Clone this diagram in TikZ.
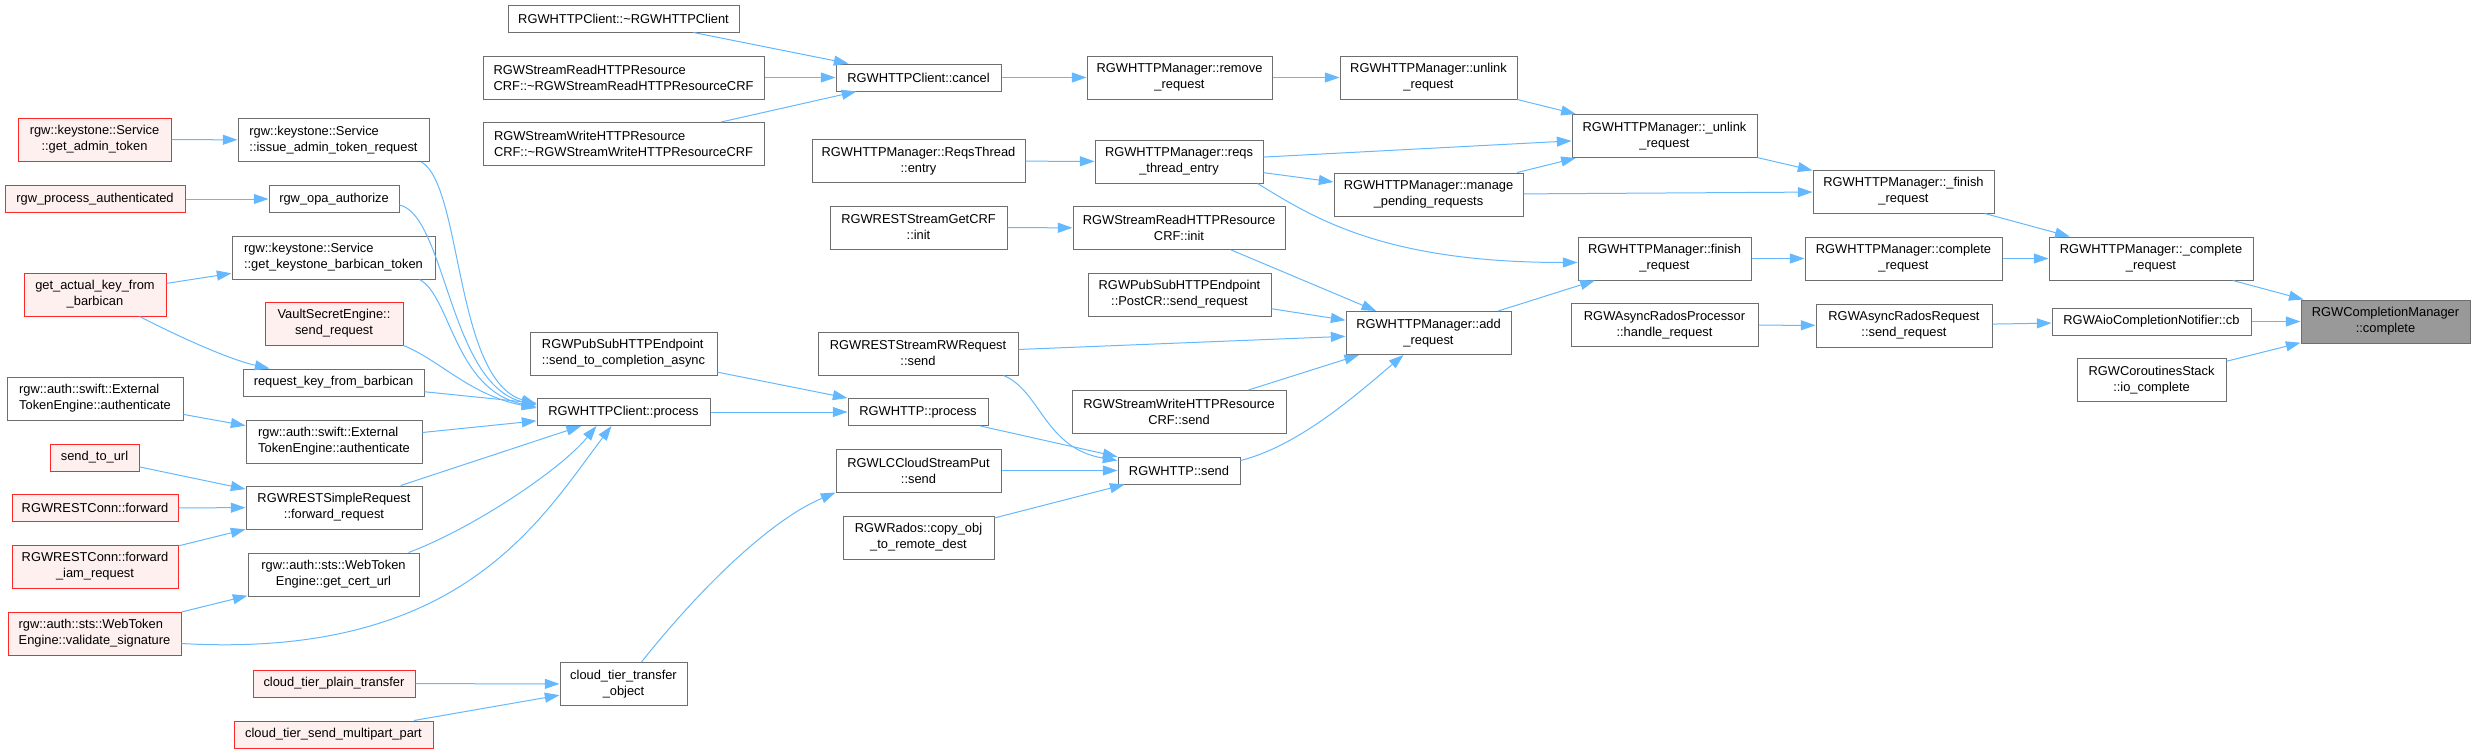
\documentclass[tikz,border=0pt]{standalone}
\usepackage{fontspec}
\setmainfont{Liberation Sans}
\usetikzlibrary{arrows.meta}
\definecolor{edgeBlue}{RGB}{99,184,255}
\definecolor{boxGray}{RGB}{110,110,110}
\definecolor{boxRed}{RGB}{255,40,40}
\definecolor{redFill}{RGB}{255,240,240}
\definecolor{rootFill}{RGB}{153,153,153}

\begin{document}
\begin{tikzpicture}[
    x=0.75pt, y=-0.75pt,
    every node/.style={font=\fontsize{9.65pt}{12pt}\selectfont},
    fn/.style={
        draw=boxGray, fill=white, line width=0.75pt, inner sep=0pt,
        align=center, minimum height=27*0.75pt
    },
    fnred/.style={fn, draw=boxRed, fill=redFill},
    fnroot/.style={fn, fill=rootFill},
    twoline/.style={minimum height=43*0.75pt},
    callline/.style={draw=edgeBlue, line width=0.75pt, -{Triangle[length=11pt, width=7.5pt]}}
]
    % 1 unit = 1 px of the 2475 x 753 graph
    \def\px{0.75pt}
    \useasboundingbox (0,0) rectangle (2475,753);

    % Column 1: outer callers
    \node[fnred, twoline, minimum width=153*\px] (gat) at (94.5,139.5) {rgw::keystone::Service\\::get\_admin\_token};
    \node[fnred, minimum width=180*\px] (rpa) at (95,199) {rgw\_process\_authenticated};
    \node[fnred, twoline, minimum width=142*\px] (gak) at (95,294.5) {get\_actual\_key\_from\\\_barbican};
    \node[fn, twoline, align=left, minimum width=176*\px] (steL) at (95,398.5) {rgw::auth::swift::External\\TokenEngine::authenticate};
    \node[fnred, minimum width=89*\px] (sturl) at (94.5,457.5) {send\_to\_url};
    \node[fnred, minimum width=166*\px] (rcf) at (95,508) {RGWRESTConn::forward};
    \node[fnred, twoline, minimum width=166*\px] (rcfi) at (95,566.5) {RGWRESTConn::forward\\\_iam\_request};
    \node[fnred, twoline, align=left, minimum width=173*\px] (vsig) at (94.5,633.5) {rgw::auth::sts::WebToken\\Engine::validate\_signature};

    % Column 2
    \node[fn, twoline, align=left, minimum width=191*\px] (iatr) at (333.5,140) {rgw::keystone::Service\\::issue\_admin\_token\_request};
    \node[fn, minimum width=130*\px] (opa) at (334,199) {rgw\_opa\_authorize};
    \node[fn, twoline, align=left, minimum width=203*\px] (gkbt) at (333.5,257.5) {rgw::keystone::Service\\::get\_keystone\_barbican\_token};
    \node[fnred, twoline, minimum width=138*\px] (vse) at (334,323.5) {VaultSecretEngine::\\send\_request};
    \node[fn, minimum width=181*\px] (rkfb) at (333.5,382.5) {request\_key\_from\_barbican};
    \node[fn, twoline, align=left, minimum width=176*\px] (steM) at (334,441.5) {rgw::auth::swift::External\\TokenEngine::authenticate};
    \node[fn, twoline, minimum width=176*\px] (fwd) at (334,507.5) {RGWRESTSimpleRequest\\::forward\_request};
    \node[fn, twoline, minimum width=171*\px] (gcu) at (333.5,574.5) {rgw::auth::sts::WebToken\\Engine::get\_cert\_url};
    \node[fnred, minimum width=162*\px] (ctpt) at (334,683.5) {cloud\_tier\_plain\_transfer};
    \node[fnred, minimum width=199*\px] (ctsmp) at (333.5,734.5) {cloud\_tier\_send\_multipart\_part};

    % Column 3
    \node[fn, minimum width=231*\px] (dtorc) at (623.5,18.5) {RGWHTTPClient::\textasciitilde RGWHTTPClient};
    \node[fn, twoline, align=left, minimum width=281*\px] (dtorr) at (623.5,77.5) {RGWStreamReadHTTPResource\\CRF::\textasciitilde RGWStreamReadHTTPResourceCRF};
    \node[fn, twoline, align=left, minimum width=281*\px] (dtorw) at (623.5,144) {RGWStreamWriteHTTPResource\\CRF::\textasciitilde RGWStreamWriteHTTPResourceCRF};
    \node[fn, twoline, align=left, minimum width=187*\px] (stca) at (623.5,353.5) {RGWPubSubHTTPEndpoint\\::send\_to\_completion\_async};
    \node[fn, minimum width=173*\px] (hcp) at (623.5,412) {RGWHTTPClient::process};
    \node[fn, twoline, minimum width=127*\px] (ctto) at (623.5,684) {cloud\_tier\_transfer\\\_object};

    % Column 4
    \node[fn, minimum width=165*\px] (cancel) at (918.5,77.5) {RGWHTTPClient::cancel};
    \node[fn, twoline, minimum width=213*\px] (rte) at (918.5,161) {RGWHTTPManager::ReqsThread\\::entry};
    \node[fn, twoline, minimum width=177*\px] (gcrf) at (918.5,227.5) {RGWRESTStreamGetCRF\\::init};
    \node[fn, twoline, minimum width=200*\px] (rwsend) at (918,353.5) {RGWRESTStreamRWRequest\\::send};
    \node[fn, minimum width=140*\px] (hproc) at (918,412) {RGWHTTP::process};
    \node[fn, twoline, minimum width=165*\px] (lcput) at (918.5,470.5) {RGWLCCloudStreamPut\\::send};
    \node[fn, twoline, minimum width=151*\px] (copyobj) at (918.5,537.5) {RGWRados::copy\_obj\\\_to\_remote\_dest};

    % Column 5
    \node[fn, twoline, minimum width=185*\px] (rmreq) at (1179.5,77.5) {RGWHTTPManager::remove\\\_request};
    \node[fn, twoline, minimum width=168*\px] (rtentry) at (1179,161.5) {RGWHTTPManager::reqs\\\_thread\_entry};
    \node[fn, twoline, minimum width=212*\px] (srinit) at (1179,228) {RGWStreamReadHTTPResource\\CRF::init};
    \node[fn, twoline, minimum width=183*\px] (postcr) at (1179.5,294.5) {RGWPubSubHTTPEndpoint\\::PostCR::send\_request};
    \node[fn, twoline, minimum width=214*\px] (swsend) at (1179,412) {RGWStreamWriteHTTPResource\\CRF::send};
    \node[fn, minimum width=122*\px] (hsend) at (1179,470.5) {RGWHTTP::send};

    % Column 6
    \node[fn, twoline, minimum width=177*\px] (unlink) at (1428.5,77.5) {RGWHTTPManager::unlink\\\_request};
    \node[fn, twoline, minimum width=189*\px] (mpr) at (1428.5,194.5) {RGWHTTPManager::manage\\\_pending\_requests};
    \node[fn, twoline, minimum width=165*\px] (addreq) at (1428.5,333) {RGWHTTPManager::add\\\_request};

    % Column 7
    \node[fn, twoline, minimum width=185*\px] (unlinkp) at (1664.5,136) {RGWHTTPManager::\_unlink\\\_request};
    \node[fn, twoline, minimum width=173*\px] (finreq) at (1664.5,258.5) {RGWHTTPManager::finish\\\_request};
    \node[fn, twoline, minimum width=187*\px] (harp) at (1664.5,325) {RGWAsyncRadosProcessor\\::handle\_request};

    % Column 8
    \node[fn, twoline, minimum width=181*\px] (finishp) at (1903.5,191.5) {RGWHTTPManager::\_finish\\\_request};
    \node[fn, twoline, minimum width=197*\px] (compreq) at (1903.5,258.5) {RGWHTTPManager::complete\\\_request};
    \node[fn, twoline, minimum width=176*\px] (arsr) at (1904,325.5) {RGWAsyncRadosRequest\\::send\_request};

    % Column 9 and the root
    \node[fn, twoline, minimum width=204*\px] (complp) at (2151,258.5) {RGWHTTPManager::\_complete\\\_request};
    \node[fn, minimum width=199*\px] (aiocb) at (2151.5,321.5) {RGWAioCompletionNotifier::cb};
    \node[fn, twoline, minimum width=149*\px] (ioc) at (2151.5,380) {RGWCoroutinesStack\\::io\_complete};
    \node[fnroot, twoline, minimum width=169*\px] (root) at (2385.5,321.5) {RGWCompletionManager\\::complete};

    % Straight calls
    \foreach \a/\b in {gat/iatr, rpa/opa, gak/gkbt, steL/steM, sturl/fwd, rcf/fwd, rcfi/fwd,
        vsig/gcu, ctpt/ctto, ctsmp/ctto, rkfb/hcp, steM/hcp, fwd/hcp, dtorc/cancel,
        dtorr/cancel, dtorw/cancel, stca/hproc, hcp/hproc, cancel/rmreq, rte/rtentry,
        gcrf/srinit, rwsend/addreq, hproc/hsend, lcput/hsend, copyobj/hsend, rmreq/unlink,
        rtentry/unlinkp, rtentry/mpr, srinit/addreq, postcr/addreq, swsend/addreq,
        unlink/unlinkp, mpr/unlinkp, mpr/finishp, addreq/finreq, unlinkp/finishp,
        finreq/compreq, harp/arsr, finishp/complp, compreq/complp, arsr/aiocb,
        complp/root, aiocb/root, ioc/root}{
        \draw[callline] (\a) -- (\b);
    }

    % Curved calls
    \draw[callline] ([xshift=-27*\px]gak.south east) .. controls +(41,21) and +(-40,-9) .. ([xshift=27*\px]rkfb.north west);
    \draw[callline] ([xshift=-8*\px]iatr.south east) .. controls +(41,24) and +(-82,-24) .. ([yshift=8*\px]hcp.west);
    \draw[callline] ([yshift=-6*\px]opa.east) .. controls +(46,10) and +(-87,-20) .. ([yshift=7*\px]hcp.west);
    \draw[callline] ([xshift=-16*\px]gkbt.south east) .. controls +(31,16) and +(-82,-17) .. ([yshift=5*\px]hcp.west);
    \draw[callline] (vse.south east) .. controls +(37,15) and +(-67,-13) .. ([yshift=4*\px]hcp.west);
    \draw[callline] ([xshift=-11*\px]gcu.north east) .. controls +(62,-23) and +(-37,45) .. ([xshift=60*\px]hcp.south west);
    \draw[callline] ([yshift=-10*\px]vsig.east) .. controls +(279,16) and +(-72,95) .. ([xshift=75*\px]hcp.south west);
    \draw[callline] ([xshift=18*\px]ctto.north) .. controls +(58,-73) and +(-66,28) .. (lcput.south west);
    \draw[callline] ([xshift=-15*\px]rwsend.south east) .. controls +(37,15) and +(-73,-12) .. ([yshift=10*\px]hsend.west);
    \draw[callline] ([yshift=10*\px]hsend.east) .. controls +(60,-15) and +(-43,36) .. ([xshift=-25*\px]addreq.south);
    \draw[callline] ([xshift=-6*\px]rtentry.south east) .. controls +(53,32) and +(-198,0) .. ([yshift=-4*\px]finreq.west);
\end{tikzpicture}
\end{document}
